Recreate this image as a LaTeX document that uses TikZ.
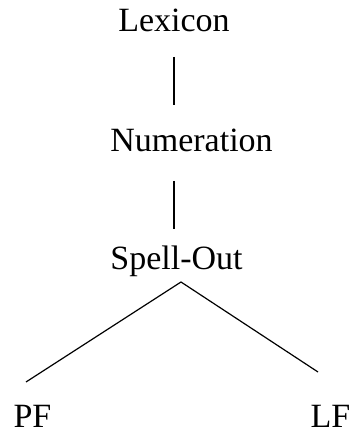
\documentclass[tikz,border=0pt]{standalone}
\usepackage{fontspec}
\setmainfont{Liberation Serif}
\begin{document}
\begin{tikzpicture}[x=1pt,y=1pt,
  lbl/.style={anchor=base,inner sep=0pt,text depth=0pt,font=\fontsize{34}{40}\selectfont},
  conn/.style={line width=1.2pt,black}]
\useasboundingbox (0,0) rectangle (353,434);
\node[lbl] (lex) at (174,402) {Lexicon};
\node[lbl] (num) at (191.5,282) {Numeration};
\node[lbl] (spell) at (176.5,164) {Spell-Out};
\node[lbl] (pf) at (32.5,6) {PF};
\node[lbl] (lf) at (330.5,6) {LF};
\coordinate (a1) at (174,377);
\coordinate (a2) at (174,329);
\coordinate (b1) at (174,253);
\coordinate (b2) at (174,205);
\coordinate (apex) at (181,152);
\coordinate (pfe) at (26,52);
\coordinate (lfe) at (318,62);
\draw[conn] (a1) -- (a2);
\draw[conn] (b1) -- (b2);
\draw[conn] (pfe) -- (apex) -- (lfe);
\end{tikzpicture}
\end{document}
